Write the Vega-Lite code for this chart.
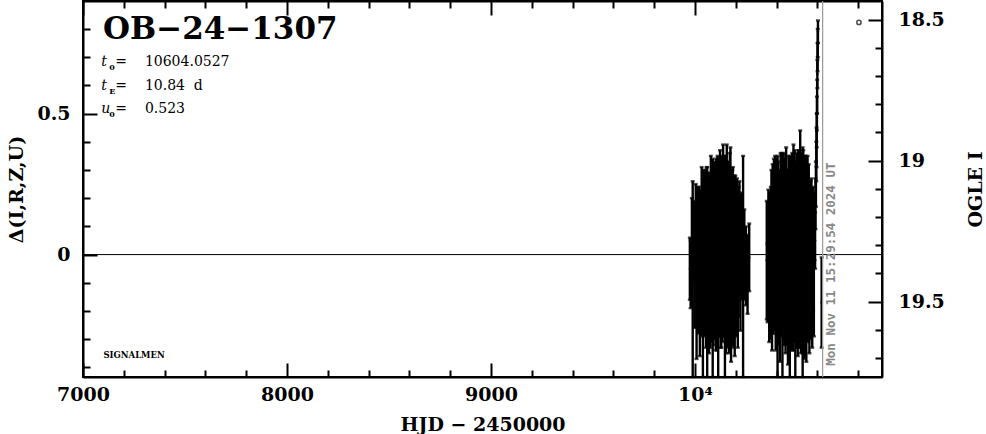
{
  "$schema": "https://vega.github.io/schema/vega-lite/v6.json",
  "width": 799,
  "height": 376,
  "autosize": {"type": "none"},
  "padding": {"left": 83, "top": 1, "right": 104, "bottom": 57},
  "background": "white",
  "config": {
    "view": {"stroke": "black", "strokeWidth": 2},
    "axis": {
      "grid": false,
      "domainColor": "black",
      "domainWidth": 2,
      "tickColor": "black",
      "tickWidth": 2,
      "labelFont": "DejaVu Serif",
      "labelFontSize": 19,
      "labelFontWeight": "bold",
      "labelColor": "black",
      "labelOverlap": false,
      "labelFlush": false,
      "titleFont": "DejaVu Serif",
      "titleFontSize": 19,
      "titleFontWeight": "bold",
      "titleColor": "black"
    }
  },
  "datasets": {
    "obs": [
      {"h": 9975, "d": -0.05, "e": 0.11},
      {"h": 9979, "d": -0.07, "e": 0.12},
      {"h": 9985, "d": 0.01, "e": 0.19},
      {"h": 9989, "d": -0.10, "e": 0.36},
      {"h": 9994, "d": 0.05, "e": 0.14},
      {"h": 9999, "d": -0.04, "e": 0.22},
      {"h": 10004, "d": 0.08, "e": 0.17},
      {"h": 10008, "d": -0.12, "e": 0.25},
      {"h": 10012, "d": 0.03, "e": 0.20},
      {"h": 10016, "d": -0.02, "e": 0.26},
      {"h": 10020, "d": 0.06, "e": 0.18},
      {"h": 10024, "d": -0.08, "e": 0.28},
      {"h": 10027, "d": 0.02, "e": 0.21},
      {"h": 10030, "d": -0.05, "e": 0.24},
      {"h": 10033, "d": 0.04, "e": 0.27},
      {"h": 10036, "d": -0.01, "e": 0.22},
      {"h": 10039, "d": -0.09, "e": 0.36},
      {"h": 10042, "d": 0.07, "e": 0.23},
      {"h": 10045, "d": 0.00, "e": 0.29},
      {"h": 10048, "d": -0.06, "e": 0.21},
      {"h": 10051, "d": 0.03, "e": 0.27},
      {"h": 10054, "d": -0.03, "e": 0.30},
      {"h": 10057, "d": 0.09, "e": 0.22},
      {"h": 10060, "d": -0.07, "e": 0.38},
      {"h": 10063, "d": 0.01, "e": 0.28},
      {"h": 10066, "d": 0.05, "e": 0.24},
      {"h": 10069, "d": -0.04, "e": 0.31},
      {"h": 10072, "d": 0.02, "e": 0.26},
      {"h": 10075, "d": -0.10, "e": 0.23},
      {"h": 10078, "d": 0.08, "e": 0.27},
      {"h": 10081, "d": -0.02, "e": 0.29},
      {"h": 10084, "d": 0.04, "e": 0.25},
      {"h": 10087, "d": -0.06, "e": 0.40},
      {"h": 10090, "d": 0.00, "e": 0.32},
      {"h": 10093, "d": 0.06, "e": 0.24},
      {"h": 10096, "d": -0.03, "e": 0.27},
      {"h": 10099, "d": 0.03, "e": 0.30},
      {"h": 10102, "d": -0.08, "e": 0.26},
      {"h": 10105, "d": 0.05, "e": 0.29},
      {"h": 10108, "d": -0.01, "e": 0.33},
      {"h": 10111, "d": 0.10, "e": 0.25},
      {"h": 10114, "d": -0.05, "e": 0.39},
      {"h": 10117, "d": 0.02, "e": 0.31},
      {"h": 10120, "d": -0.02, "e": 0.27},
      {"h": 10123, "d": 0.07, "e": 0.30},
      {"h": 10126, "d": -0.07, "e": 0.26},
      {"h": 10129, "d": 0.01, "e": 0.34},
      {"h": 10132, "d": 0.04, "e": 0.29},
      {"h": 10135, "d": -0.04, "e": 0.27},
      {"h": 10138, "d": 0.08, "e": 0.31},
      {"h": 10141, "d": -0.01, "e": 0.28},
      {"h": 10144, "d": 0.03, "e": 0.32},
      {"h": 10147, "d": -0.06, "e": 0.41},
      {"h": 10150, "d": 0.06, "e": 0.27},
      {"h": 10153, "d": -0.02, "e": 0.33},
      {"h": 10156, "d": 0.09, "e": 0.30},
      {"h": 10159, "d": -0.05, "e": 0.28},
      {"h": 10162, "d": 0.02, "e": 0.31},
      {"h": 10165, "d": 0.05, "e": 0.26},
      {"h": 10168, "d": -0.03, "e": 0.32},
      {"h": 10171, "d": 0.07, "e": 0.29},
      {"h": 10174, "d": 0.10, "e": 0.28},
      {"h": 10177, "d": -0.08, "e": 0.30},
      {"h": 10180, "d": 0.03, "e": 0.27},
      {"h": 10183, "d": -0.01, "e": 0.31},
      {"h": 10186, "d": 0.06, "e": 0.25},
      {"h": 10189, "d": -0.04, "e": 0.29},
      {"h": 10192, "d": 0.02, "e": 0.26},
      {"h": 10195, "d": -0.06, "e": 0.30},
      {"h": 10198, "d": 0.04, "e": 0.24},
      {"h": 10202, "d": -0.02, "e": 0.27},
      {"h": 10206, "d": 0.05, "e": 0.22},
      {"h": 10210, "d": -0.07, "e": 0.26},
      {"h": 10214, "d": 0.01, "e": 0.23},
      {"h": 10218, "d": 0.06, "e": 0.20},
      {"h": 10223, "d": -0.03, "e": 0.24},
      {"h": 10228, "d": 0.03, "e": 0.19},
      {"h": 10236, "d": -0.05, "e": 0.40},
      {"h": 10242, "d": 0.00, "e": 0.16},
      {"h": 10250, "d": -0.04, "e": 0.14},
      {"h": 10258, "d": -0.07, "e": 0.14},
      {"h": 10266, "d": -0.01, "e": 0.12},
      {"h": 10352, "d": -0.02, "e": 0.21},
      {"h": 10356, "d": -0.10, "e": 0.14},
      {"h": 10360, "d": 0.03, "e": 0.20},
      {"h": 10364, "d": -0.06, "e": 0.25},
      {"h": 10368, "d": 0.05, "e": 0.17},
      {"h": 10372, "d": -0.03, "e": 0.27},
      {"h": 10375, "d": 0.08, "e": 0.22},
      {"h": 10378, "d": -0.08, "e": 0.26},
      {"h": 10381, "d": 0.02, "e": 0.30},
      {"h": 10384, "d": -0.04, "e": 0.24},
      {"h": 10387, "d": 0.06, "e": 0.28},
      {"h": 10390, "d": -0.01, "e": 0.25},
      {"h": 10393, "d": 0.04, "e": 0.31},
      {"h": 10396, "d": -0.07, "e": 0.27},
      {"h": 10399, "d": 0.10, "e": 0.24},
      {"h": 10402, "d": 0.00, "e": 0.29},
      {"h": 10405, "d": -0.05, "e": 0.40},
      {"h": 10408, "d": 0.07, "e": 0.26},
      {"h": 10411, "d": -0.02, "e": 0.30},
      {"h": 10414, "d": 0.03, "e": 0.27},
      {"h": 10417, "d": -0.09, "e": 0.29},
      {"h": 10420, "d": 0.05, "e": 0.31},
      {"h": 10423, "d": -0.03, "e": 0.26},
      {"h": 10426, "d": 0.08, "e": 0.28},
      {"h": 10429, "d": -0.06, "e": 0.39},
      {"h": 10432, "d": 0.01, "e": 0.27},
      {"h": 10435, "d": 0.06, "e": 0.30},
      {"h": 10438, "d": -0.04, "e": 0.28},
      {"h": 10441, "d": 0.02, "e": 0.32},
      {"h": 10444, "d": -0.08, "e": 0.27},
      {"h": 10447, "d": 0.09, "e": 0.29},
      {"h": 10450, "d": -0.01, "e": 0.31},
      {"h": 10453, "d": 0.04, "e": 0.26},
      {"h": 10456, "d": -0.05, "e": 0.34},
      {"h": 10459, "d": 0.07, "e": 0.28},
      {"h": 10462, "d": 0.00, "e": 0.30},
      {"h": 10465, "d": -0.07, "e": 0.41},
      {"h": 10468, "d": 0.03, "e": 0.32},
      {"h": 10471, "d": 0.06, "e": 0.27},
      {"h": 10474, "d": -0.03, "e": 0.30},
      {"h": 10477, "d": 0.01, "e": 0.35},
      {"h": 10480, "d": -0.06, "e": 0.28},
      {"h": 10483, "d": 0.08, "e": 0.31},
      {"h": 10486, "d": -0.02, "e": 0.29},
      {"h": 10489, "d": 0.04, "e": 0.33},
      {"h": 10492, "d": -0.09, "e": 0.38},
      {"h": 10495, "d": 0.05, "e": 0.28},
      {"h": 10498, "d": -0.01, "e": 0.32},
      {"h": 10501, "d": 0.07, "e": 0.29},
      {"h": 10504, "d": -0.05, "e": 0.31},
      {"h": 10507, "d": 0.02, "e": 0.35},
      {"h": 10510, "d": 0.10, "e": 0.27},
      {"h": 10513, "d": -0.03, "e": 0.30},
      {"h": 10516, "d": 0.12, "e": 0.32},
      {"h": 10519, "d": -0.07, "e": 0.28},
      {"h": 10522, "d": 0.03, "e": 0.33},
      {"h": 10525, "d": 0.06, "e": 0.29},
      {"h": 10528, "d": -0.04, "e": 0.42},
      {"h": 10531, "d": 0.01, "e": 0.36},
      {"h": 10534, "d": -0.08, "e": 0.29},
      {"h": 10537, "d": 0.05, "e": 0.30},
      {"h": 10540, "d": -0.02, "e": 0.34},
      {"h": 10543, "d": 0.08, "e": 0.27},
      {"h": 10546, "d": -0.06, "e": 0.32},
      {"h": 10549, "d": 0.02, "e": 0.29},
      {"h": 10552, "d": 0.04, "e": 0.31},
      {"h": 10555, "d": -0.03, "e": 0.28},
      {"h": 10558, "d": 0.06, "e": 0.26},
      {"h": 10561, "d": -0.05, "e": 0.30},
      {"h": 10564, "d": 0.01, "e": 0.25},
      {"h": 10567, "d": -0.02, "e": 0.28},
      {"h": 10571, "d": 0.04, "e": 0.23},
      {"h": 10575, "d": -0.06, "e": 0.27},
      {"h": 10579, "d": 0.02, "e": 0.22},
      {"h": 10583, "d": -0.04, "e": 0.25},
      {"h": 10586, "d": 0.10, "e": 0.12},
      {"h": 10589, "d": 0.05, "e": 0.10},
      {"h": 10591, "d": 0.18, "e": 0.09},
      {"h": 10593, "d": 0.25, "e": 0.08},
      {"h": 10595, "d": 0.33, "e": 0.07},
      {"h": 10596, "d": 0.38, "e": 0.07},
      {"h": 10597, "d": 0.44, "e": 0.06},
      {"h": 10598, "d": 0.50, "e": 0.06},
      {"h": 10599, "d": 0.56, "e": 0.06},
      {"h": 10600, "d": 0.64, "e": 0.05},
      {"h": 10601, "d": 0.70, "e": 0.05},
      {"h": 10602, "d": 0.75, "e": 0.05},
      {"h": 10603, "d": 0.79, "e": 0.04},
      {"h": 10621, "d": -0.17, "e": 0.16}
    ],
    "params": [
      {"h": 7090, "d": 0.667, "sym": "t", "sub": "0", "val": "=\u00a0\u00a0\u00a0\u00a010604.0527"},
      {"h": 7090, "d": 0.585, "sym": "t", "sub": "E", "val": "=\u00a0\u00a0\u00a0\u00a010.84\u00a0\u00a0d"},
      {"h": 7090, "d": 0.503, "sym": "u", "sub": "0", "val": "=\u00a0\u00a0\u00a0\u00a00.523"}
    ]
  },
  "layer": [
    {
      "layer": [
        {
          "data": {"name": "obs"},
          "mark": {"type": "point", "filled": true, "color": "black", "size": 6, "opacity": 1},
          "encoding": {
            "x": {
              "field": "h", "type": "quantitative",
              "scale": {"domain": [7000, 10917], "nice": false, "zero": false},
              "axis": null
            },
            "y": {
              "field": "d", "type": "quantitative",
              "scale": {"domain": [-0.434, 0.899], "nice": false, "zero": false, "clamp": true},
              "axis": null
            }
          }
        },
        {
          "data": {"name": "obs"},
          "mark": {"type": "errorbar", "ticks": true, "color": "black", "thickness": 2.4, "size": 4},
          "encoding": {
            "x": {"field": "h", "type": "quantitative", "axis": null},
            "y": {"field": "d", "type": "quantitative", "axis": null},
            "yError": {"field": "e"}
          }
        },
        {
          "data": {"values": [{"d": 0}]},
          "mark": {"type": "rule", "color": "black", "strokeWidth": 1},
          "encoding": {"y": {"field": "d", "type": "quantitative"}}
        },
        {
          "data": {"values": [{"h": 10626}]},
          "mark": {"type": "rule", "color": "#999999", "strokeWidth": 1.2},
          "encoding": {"x": {"field": "h", "type": "quantitative"}}
        },
        {
          "data": {"values": [{"h": 10804, "d": 0.823}]},
          "mark": {"type": "point", "shape": "circle", "filled": false, "color": "black", "strokeWidth": 1.5, "size": 18},
          "encoding": {
            "x": {"field": "h", "type": "quantitative"},
            "y": {"field": "d", "type": "quantitative"}
          }
        },
        {
          "data": {"values": [{"h": 7098, "d": 0.766, "label": "OB−24−1307"}]},
          "mark": {"type": "text", "font": "DejaVu Serif", "fontSize": 31, "fontWeight": "bold", "align": "left", "baseline": "alphabetic", "color": "black"},
          "encoding": {
            "x": {"field": "h", "type": "quantitative"},
            "y": {"field": "d", "type": "quantitative"},
            "text": {"field": "label"}
          }
        },
        {
          "data": {"name": "params"},
          "mark": {"type": "text", "font": "DejaVu Serif", "fontSize": 14, "fontStyle": "italic", "align": "left", "baseline": "alphabetic", "color": "black"},
          "encoding": {
            "x": {"field": "h", "type": "quantitative"},
            "y": {"field": "d", "type": "quantitative"},
            "text": {"field": "sym"}
          }
        },
        {
          "data": {"name": "params"},
          "mark": {"type": "text", "font": "DejaVu Serif", "fontSize": 8, "fontWeight": "bold", "align": "left", "baseline": "alphabetic", "color": "black", "dx": 8, "dy": 4},
          "encoding": {
            "x": {"field": "h", "type": "quantitative"},
            "y": {"field": "d", "type": "quantitative"},
            "text": {"field": "sub"}
          }
        },
        {
          "data": {"name": "params"},
          "mark": {"type": "text", "font": "DejaVu Serif", "fontSize": 14, "align": "left", "baseline": "alphabetic", "color": "black", "dx": 14},
          "encoding": {
            "x": {"field": "h", "type": "quantitative"},
            "y": {"field": "d", "type": "quantitative"},
            "text": {"field": "val"}
          }
        },
        {
          "data": {"values": [{"h": 7100, "d": -0.368, "label": "SIGNALMEN"}]},
          "mark": {"type": "text", "font": "DejaVu Serif", "fontSize": 8.5, "fontWeight": "bold", "align": "left", "baseline": "alphabetic", "color": "black"},
          "encoding": {
            "x": {"field": "h", "type": "quantitative"},
            "y": {"field": "d", "type": "quantitative"},
            "text": {"field": "label"}
          }
        },
        {
          "data": {"values": [{"h": 10667, "d": -0.394, "label": "Mon Nov 11 15:29:54 2024 UT"}]},
          "mark": {"type": "text", "font": "DejaVu Sans Mono", "fontSize": 12.5, "fontWeight": "bold", "angle": 270, "align": "left", "baseline": "middle", "color": "#888888"},
          "encoding": {
            "x": {"field": "h", "type": "quantitative"},
            "y": {"field": "d", "type": "quantitative"},
            "text": {"field": "label"}
          }
        }
      ]
    },
    {
      "data": {"values": [{"h": 7000, "d": 0}]},
      "mark": {"type": "point", "opacity": 0},
      "encoding": {
        "x": {
          "field": "h", "type": "quantitative",
          "scale": {"domain": [7000, 10917], "nice": false, "zero": false},
          "axis": {
            "orient": "bottom",
            "title": "HJD − 2450000",
            "titlePadding": 4,
            "labelOverlap": false,
            "values": [7000, 7200, 7400, 7600, 7800, 8000, 8200, 8400, 8600, 8800, 9000, 9200, 9400, 9600, 9800, 10000, 10200, 10400, 10600, 10800],
            "labelExpr": "datum.value == 10000 ? '10⁴' : (datum.value % 1000 == 0 ? format(datum.value, 'd') : '')",
            "tickSize": {"condition": {"test": "datum.value % 1000 == 0", "value": -14}, "value": -7},
            "labelPadding": 22
          }
        },
        "y": {
          "field": "d", "type": "quantitative",
          "scale": {"domain": [-0.434, 0.899], "nice": false, "zero": false},
          "axis": {
            "orient": "left",
            "title": "Δ(I,R,Z,U)",
            "titlePadding": 10,
            "labelOverlap": false,
            "values": [-0.4, -0.3, -0.2, -0.1, 0, 0.1, 0.2, 0.3, 0.4, 0.5, 0.6, 0.7, 0.8],
            "labelExpr": "abs(datum.value - 0.5) < 0.001 ? '0.5' : (abs(datum.value) < 0.001 ? '0' : '')",
            "tickSize": {"condition": {"test": "abs(datum.value * 2 - round(datum.value * 2)) < 0.001", "value": -14}, "value": -7},
            "labelPadding": 27
          }
        }
      }
    },
    {
      "data": {"values": [{"h": 7000, "I": 19}]},
      "mark": {"type": "point", "opacity": 0},
      "encoding": {
        "x": {
          "field": "h", "type": "quantitative",
          "scale": {"domain": [7000, 10917], "nice": false, "zero": false},
          "axis": {
            "orient": "top", "title": null, "labels": false,
            "values": [7000, 7200, 7400, 7600, 7800, 8000, 8200, 8400, 8600, 8800, 9000, 9200, 9400, 9600, 9800, 10000, 10200, 10400, 10600, 10800],
            "tickSize": {"condition": {"test": "datum.value % 1000 == 0", "value": -14}, "value": -7}
          }
        },
        "y": {
          "field": "I", "type": "quantitative",
          "scale": {"domain": [18.434, 19.767], "reverse": true, "nice": false, "zero": false},
          "axis": {
            "orient": "right",
            "title": "OGLE I",
            "titleAngle": 270,
            "titlePadding": 41,
            "labelOverlap": false,
            "values": [18.5, 18.6, 18.7, 18.8, 18.9, 19.0, 19.1, 19.2, 19.3, 19.4, 19.5, 19.6, 19.7],
            "labelExpr": "abs(datum.value - 18.5) < 0.001 ? '18.5' : (abs(datum.value - 19) < 0.001 ? '19' : (abs(datum.value - 19.5) < 0.001 ? '19.5' : ''))",
            "tickSize": {"condition": {"test": "abs(datum.value * 2 - round(datum.value * 2)) < 0.001", "value": -14}, "value": -7},
            "labelPadding": 30
          }
        }
      }
    }
  ],
  "resolve": {
    "scale": {"x": "independent", "y": "independent"},
    "axis": {"x": "independent", "y": "independent"}
  }
}
